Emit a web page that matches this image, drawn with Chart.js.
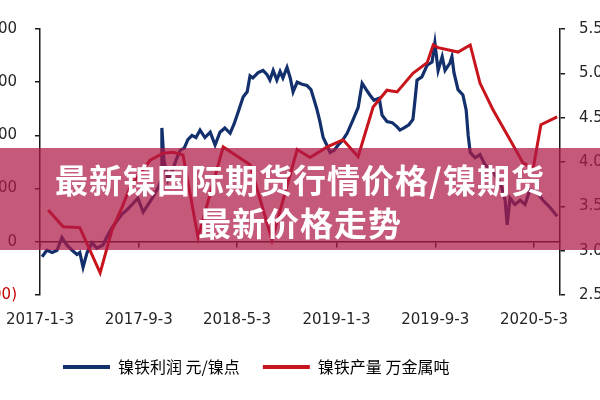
<!DOCTYPE html>
<html>
<head>
<meta charset="utf-8">
<script src="https://cdn.jsdelivr.net/npm/chart.js@4.4.1/dist/chart.umd.min.js"></script>
<style>
  body { margin: 0; background: #fff; }
  #wrap { position: relative; width: 600px; height: 400px; overflow: hidden; }
  #banner {
    position: absolute; left: 0; top: 148px; width: 600px; height: 102px;
    box-sizing: border-box; padding-top: 10px;
    background: rgba(175, 25, 70, 0.72); color: #fff;
    font: bold 33px/43px "Noto Sans CJK SC", sans-serif;
    letter-spacing: 1px; text-align: center;
  }
</style>
</head>
<body>
<div id="wrap">
  <canvas id="chart" width="600" height="400"></canvas>
  <div id="banner">最新镍国际期货行情价格/镍期货<br>最新价格走势</div>
</div>
<script>
// tick labels on the date axis
const tickDates = ["2017-1-3", "2017-9-3", "2018-5-3", "2019-1-3", "2019-9-3", "2020-5-3"];

// 镍铁利润 (weekly) - days after 2017-1-3, value in 元/镍点
const profitDays = [5, 17, 30, 42, 54, 66, 79, 91, 98, 106,
  116, 128, 140, 155, 165, 177, 190, 202, 214, 229,
  241, 254, 266, 278, 291, 298, 300, 305, 315, 325,
  335, 345, 355, 364, 374, 384, 394, 406, 419, 431,
  443, 455, 468, 478, 487, 500, 510, 517, 524, 537,
  549, 559, 566, 574, 583, 591, 598, 608, 616, 623,
  633, 645, 657, 667, 675, 682, 689, 697, 707, 714,
  724, 734, 744, 756, 771, 783, 793, 803, 812, 822,
  835, 842, 854, 867, 879, 886, 896, 908, 918, 923,
  928, 940, 953, 965, 972, 980, 990, 997, 1009, 1014,
  1019, 1029, 1041, 1049, 1054, 1059, 1071, 1083, 1096, 1108,
  1120, 1133, 1145, 1150, 1157, 1169, 1182, 1194, 1206, 1224,
  1238, 1256, 1273];
const profit = [-140, -80, -100, -80, 40, -30, -80, -120, -100, -240,
  -100, -10, -60, -30, 50, 130, 200, 260, 300, 360,
  410, 280, 350, 420, 510, 580, 1070, 770, 580, 660,
  770, 860, 880, 960, 1000, 980, 1050, 980, 1030, 910,
  1030, 1070, 1020, 1110, 1210, 1360, 1410, 1560, 1540, 1590,
  1610, 1570, 1520, 1610, 1520, 1600, 1540, 1640, 1540, 1410,
  1500, 1480, 1470, 1430, 1330, 1240, 1130, 980, 900, 840,
  860, 910, 950, 1020, 1150, 1260, 1490, 1430, 1380, 1330,
  1350, 1190, 1130, 1120, 1080, 1050, 1070, 1100, 1150, 1330,
  1520, 1550, 1660, 1690, 1870, 1610, 1740, 1610, 1680, 1740,
  1590, 1430, 1380, 1240, 1000, 840, 790, 820, 720, 690,
  630, 560, 390, 160, 410, 350, 390, 350, 490, 460,
  390, 320, 240];

// 镍铁产量 (monthly) - days after 2017-1-3, value in 万金属吨
const outputDays = [20, 57, 98, 148, 177, 202, 222, 271, 303, 327,
  352, 389, 451, 517, 571, 633, 665, 707, 746, 783,
  820, 854, 879, 918, 953, 968, 980, 1029, 1059, 1083,
  1115, 1157, 1189, 1214, 1233, 1273];
const output = [3.46, 3.27, 3.26, 2.75, 3.23, 3.49, 3.72, 4.02, 4.10, 4.11,
  4.08, 3.15, 4.17, 3.97, 3.12, 4.14, 4.05, 4.17, 4.25, 4.06,
  4.62, 4.81, 4.79, 5.00, 5.12, 5.32, 5.29, 5.24, 5.32, 4.89,
  4.59, 4.25, 3.99, 3.93, 4.42, 4.51];

const seriesNames = ["镍铁利润 元/镍点", "镍铁产量 万金属吨"];

const startDate = Date.UTC(2017, 0, 3);
const dayOf = (s) => {
  const [y, m, d] = s.split("-").map(Number);
  return (Date.UTC(y, m - 1, d) - startDate) / 864e5;
};
const tickDays = tickDates.map(dayOf);
const setDateTicks = (scale) => {
  scale.ticks = tickDays.map((v) => ({ value: v }));
};

const axisFont = { family: "DejaVu Sans", size: 15 };
const axisColor = "#1a1a1a";

new Chart(document.getElementById("chart"), {
  type: "line",
  data: {
    datasets: [
      {
        label: seriesNames[0],
        data: profitDays.map((d, i) => ({ x: d, y: profit[i] })),
        borderColor: "#13306d",
        borderWidth: 3.2,
        pointRadius: 0,
        yAxisID: "y",
        order: 1,
      },
      {
        label: seriesNames[1],
        data: outputDays.map((d, i) => ({ x: d, y: output[i] })),
        borderColor: "#c8141c",
        borderWidth: 3,
        pointRadius: 0,
        yAxisID: "y1",
        order: 0,
      },
    ],
  },
  options: {
    responsive: false,
    animation: false,
    layout: { padding: { top: 29, bottom: 15, left: 0, right: 0 } },
    scales: {
      x: {
        type: "linear",
        min: 0,
        max: 1280,
        afterBuildTicks: setDateTicks,
        afterFit: (scale) => { scale.height = 41; },
        // tick length (not drawn) only pushes the labels down
        grid: { display: false, drawTicks: true, tickLength: 16 },
        border: { display: false },
        ticks: {
          padding: 0,
          maxRotation: 0,
          autoSkip: false,
          color: "#262626",
          font: axisFont,
          callback: (value, index) => tickDates[index],
        },
      },
      // zero line with its tick marks
      x2: {
        type: "linear",
        position: { y: 0 },
        min: 0,
        max: 1280,
        afterBuildTicks: setDateTicks,
        afterFit: (scale) => { scale.height = 0; },
        grid: { drawOnChartArea: false, tickLength: 5, color: axisColor, lineWidth: 1.5 },
        border: { color: axisColor, width: 1.5 },
        ticks: { display: false, padding: 0 },
      },
      y: {
        position: "left",
        min: -500,
        max: 2000,
        afterFit: (scale) => { scale.width = 40; },
        grid: { drawOnChartArea: false, tickLength: 5, tickColor: axisColor, lineWidth: 1.5 },
        border: { color: axisColor, width: 1.5 },
        ticks: {
          stepSize: 500,
          padding: 18,
          font: axisFont,
          color: (ctx) => (ctx.tick.value < 0 ? "#c00000" : "#262626"),
          callback: (v) => (v < 0 ? "(" + (-v).toLocaleString("en-US") + ")" : v.toLocaleString("en-US")),
        },
      },
      y1: {
        position: "right",
        min: 2.5,
        max: 5.5,
        afterFit: (scale) => { scale.width = 40; },
        grid: { drawOnChartArea: false, tickLength: 5, tickColor: axisColor, lineWidth: 1.5 },
        border: { color: axisColor, width: 1.5 },
        ticks: {
          stepSize: 0.5,
          padding: 14,
          font: axisFont,
          color: "#262626",
          callback: (v) => v.toFixed(1),
        },
      },
    },
    plugins: {
      tooltip: { enabled: false },
      legend: {
        position: "bottom",
        align: "start",
        fullSize: false,
        labels: {
          boxWidth: 47,
          boxHeight: 4,
          padding: 23,
          color: "#595959",
          font: { family: "Noto Sans CJK SC", size: 16 },
          generateLabels: (chart) =>
            chart.data.datasets.map((ds, i) => ({
              text: ds.label,
              fillStyle: ds.borderColor,
              strokeStyle: ds.borderColor,
              lineWidth: 0,
              datasetIndex: i,
              hidden: false,
            })),
        },
      },
    },
  },
});
</script>
</body>
</html>
